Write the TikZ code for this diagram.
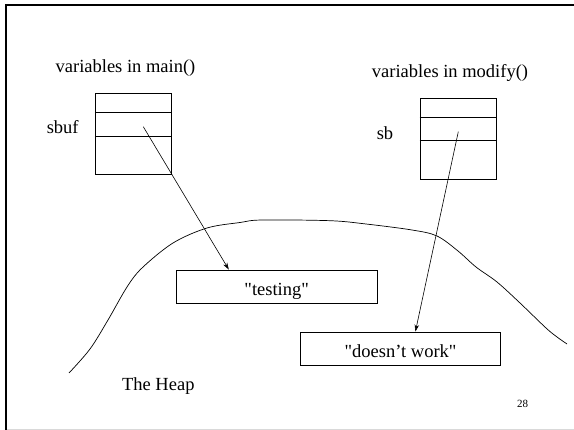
\documentclass[tikz,border=0pt]{standalone}
\usepackage{fontspec}
\setmainfont{Liberation Serif}
\usetikzlibrary{arrows.meta}
\newcommand\slidefont{\fontsize{18.5}{22}\selectfont}
\begin{document}
\begin{tikzpicture}[x=1pt,y=-1pt,
  frame/.style={draw, line width=0.9pt, rectangle, inner sep=0pt, minimum width=76.4pt, minimum height=80.5pt},
  heapbox/.style={draw, line width=0.9pt, rectangle, inner sep=0pt, minimum width=200.5pt, minimum height=33.3pt, text height=17.5pt, text depth=0pt, font=\slidefont},
  lbl/.style={anchor=base, inner sep=0pt, font=\slidefont},
  ptr/.style={line width=0.6pt, -{Stealth[length=7pt,width=4.5pt]}},
  cell/.style={line width=0.9pt}]
\useasboundingbox (0,0) rectangle (574,430);
% slide frame
\draw[line width=2pt] (6,430) -- (6,4.8) -- (574,4.8);
\draw[black!15, line width=1pt] (7,429.3) -- (574,429.3);

% stack frames
\node[frame] (mainf) at (133.5,134) {};
\draw[cell] ([yshift=-19.3pt]mainf.north west) -- ([yshift=-19.3pt]mainf.north east);
\draw[cell] ([yshift=-43pt]mainf.north west) -- ([yshift=-43pt]mainf.north east);
\node[frame] (modf) at (458.2,138.8) {};
\draw[cell] ([yshift=-19pt]modf.north west) -- ([yshift=-19pt]modf.north east);
\draw[cell] ([yshift=-42.6pt]modf.north west) -- ([yshift=-42.6pt]modf.north east);

% labels
\node[lbl] (lmain) at (125.5,73) {variables in main()};
\node[lbl] (lmod) at (450,77.5) {variables in modify()};
\node[lbl] (lsbuf) at (62.7,134) {sbuf};
\node[lbl] (lsb) at (385,140) {sb};
\node[lbl] (lheap) at (158.3,391) {The Heap};
\node[anchor=base, inner sep=0pt, font=\fontsize{11}{13}\selectfont] (pnum) at (522.7,407.3) {28};

% heap
\draw[line width=0.7pt] plot[smooth, tension=0.55] coordinates {
  (69,373) (90,349) (108,320) (127,287) (142,268) (173,243) (207,228)
  (240,222.5) (262,220) (330,220.7) (366,224) (412,230) (437,236)
  (458,251) (476,267) (497,282) (520,303) (546,328) (557,337) (567,344)};

% heap objects
\node[heapbox] (testing) at (276.7,286.7) {\textquotedbl testing\textquotedbl};
\node[heapbox] (doesnt) at (400.6,348.7) {\textquotedbl doesn’t work\textquotedbl};

% pointers
\coordinate (sbufp) at (143.3,126.7);
\coordinate (sbp) at (458.3,131.7);
\draw[ptr] (sbufp) -- ([xshift=-47.9pt]testing.north);
\draw[ptr] (sbp) -- ([xshift=14.8pt]doesnt.north);
\end{tikzpicture}
\end{document}
